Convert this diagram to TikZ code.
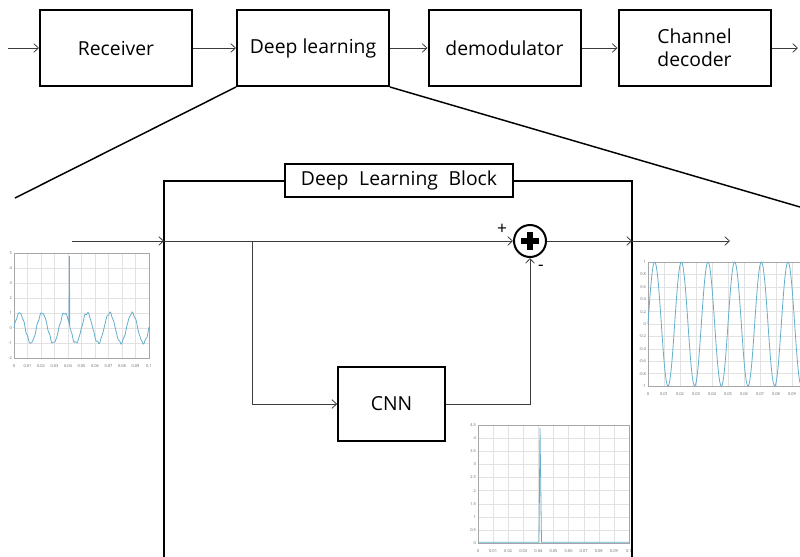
\documentclass[tikz,border=0pt]{standalone}
\usepackage{fontspec}
\setmainfont{Open Sans}
\usepackage{tikz}
\usetikzlibrary{shapes,arrows.meta,positioning,calc}
\definecolor{sigblue}{RGB}{100,174,204}
\definecolor{gridgray}{RGB}{226,226,226}
\definecolor{linegray}{RGB}{60,60,60}
\tikzset{
  blk/.style = {draw=black, line width=1.5pt, rectangle, align=center, inner sep=0pt, font=\fontsize{14.5}{17.5}\selectfont},
  topblk/.style = {blk, minimum width=114pt, minimum height=57pt},
  cnnblk/.style = {blk, minimum width=80pt, minimum height=55.5pt},
  titleblk/.style = {blk, fill=white, line width=1.2pt, minimum width=171pt, minimum height=24.75pt},
  sumnode/.style = {circle, draw=black, line width=1.5pt, minimum size=24pt, inner sep=0pt},
  signlbl/.style = {font=\fontsize{13}{13}\selectfont, inner sep=0pt},
  sig/.style = {->, draw=linegray, line width=0.6pt},
  zoomline/.style = {draw=black, line width=1.1pt},
  axbox/.style = {draw=gray!70, line width=0.3pt},
  gridline/.style = {draw=gridgray, line width=0.25pt},
  ticklbl/.style = {font=\fontsize{3}{3.5}\selectfont, text=gray!80!black, inner sep=0.6pt},
  curve/.style = {draw=sigblue, line width=0.6pt}
}
\begin{document}
\begin{tikzpicture}[x=0.75pt, y=-0.75pt, >={Straight Barb[length=3.5pt,width=6.5pt]}]
  \useasboundingbox (0,0) rectangle (800,557);
  % top chain
  \node[topblk] (rx) at (116,48) {Receiver};
  \node[topblk] (dl) at (313,48) {Deep learning};
  \node[topblk] (demod) at (504.5,48) {demodulator};
  \node[topblk] (dec) at (694.5,48) {Channel\\decoder};
  \coordinate (in) at (8,48);
  \coordinate (out) at (798,48);
  \draw[sig] (in) -- (rx);
  \draw[sig] (rx) -- (dl);
  \draw[sig] (dl) -- (demod);
  \draw[sig] (demod) -- (dec);
  \draw[sig] (dec) -- (out);
  \coordinate (zl) at (15,198);
  \coordinate (zr) at (800,207);
  \draw[zoomline] (dl.south west) -- (zl);
  \draw[zoomline] (dl.south east) -- (zr);

  % deep learning block
  \draw[line width=1.5pt] (164,557) -- (164,181) -- (632,181) -- (632,557);
  \node[titleblk] (dlb) at (399,180.5) {Deep\hspace{0.55em}Learning\hspace{0.55em}Block};
  \coordinate (sin) at (72,241);
  \coordinate (fl) at (164,241);
  \coordinate (fr) at (632,241);
  \coordinate (sout) at (730,241);
  \coordinate (br) at (252,241);
  \node[sumnode] (sum) at (530,241) {};
  \fill ($(sum)+(-9,-3)$) rectangle ($(sum)+(9,3)$);
  \fill ($(sum)+(-3,-9)$) rectangle ($(sum)+(3,9)$);
  \node[signlbl] (plus) at (502,229) {+};
  \node[signlbl] (minus) at (541,268) {-};
  \node[cnnblk] (cnn) at (391.5,404) {CNN};
  \draw[sig] (sin) -- (fl);
  \draw[sig] (fl) -- (sum);
  \draw[sig] (sum) -- (fr);
  \draw[sig] (fr) -- (sout);
  \draw[sig] (br) |- (cnn);
  \draw[sig] (cnn) -| (sum);

  % input plot
  \foreach \i in {0,...,10} \draw[gridline] ({14+13.5*\i},253) -- ({14+13.5*\i},358);
  \foreach \j in {0,...,7} \draw[gridline] (14,{358-15*\j}) -- (149,{358-15*\j});
  \draw[axbox] (14,253) rectangle (149,358);
  \foreach \i/\l in {0/0,1/0.01,2/0.02,3/0.03,4/0.04,5/0.05,6/0.06,7/0.07,8/0.08,9/0.09,10/0.1}
    \node[ticklbl] at ({14+13.5*\i},366) {\l};
  \foreach \j in {-2,...,5} \node[ticklbl, anchor=east] at (13,{328-15*\j}) {\j};
  \draw[curve] plot[domain=0:55, samples=140] ({14+\x},{328-15*(sin(16*\x)+0.05*sin(83*\x)+0.04*sin(113*\x))})
    -- (69.4,256) -- plot[domain=55.8:135, samples=180] ({14+\x},{328-15*(sin(16*\x)+0.05*sin(83*\x)+0.04*sin(113*\x))});

  % output plot
  \foreach \i in {0,...,9} \draw[gridline] ({648+16*\i},262) -- ({648+16*\i},386);
  \foreach \j in {0,...,10} \draw[gridline] (648,{386-12.4*\j}) -- (800,{386-12.4*\j});
  \draw[axbox] (800,262) -- (648,262) -- (648,386) -- (800,386);
  \foreach \i/\l in {0/0,1/0.01,2/0.02,3/0.03,4/0.04,5/0.05,6/0.06,7/0.07,8/0.08,9/0.09}
    \node[ticklbl] at ({648+16*\i},394) {\l};
  \foreach \j/\l in {0/-1,1/-0.8,2/-0.6,3/-0.4,4/-0.2,5/0,6/0.2,7/0.4,8/0.6,9/0.8,10/1}
    \node[ticklbl, anchor=east] at (647,{386-12.4*\j}) {\l};
  \draw[curve] plot[domain=0:152, samples=240] ({648+\x},{324-62*sin(13.5*\x)});

  % CNN output plot
  \foreach \i in {0,...,10} \draw[gridline] ({478+15.1*\i},425) -- ({478+15.1*\i},543);
  \foreach \j in {0,...,9} \draw[gridline] (478,{543-13.11*\j}) -- (629,{543-13.11*\j});
  \draw[axbox] (478,425) rectangle (629,543);
  \foreach \i/\l in {0/0,1/0.01,2/0.02,3/0.03,4/0.04,5/0.05,6/0.06,7/0.07,8/0.08,9/0.09,10/0.1}
    \node[ticklbl] at ({478+15.1*\i},551) {\l};
  \foreach \j/\l in {0/0,1/0.5,2/1,3/1.5,4/2,5/2.5,6/3,7/3.5,8/4,9/4.5}
    \node[ticklbl, anchor=east] at (477,{543-13.11*\j}) {\l};
  \draw[curve] (478,542.3) -- (539,542.3) -- (540,428) -- (541.5,542.3) -- (629,542.3);
\end{tikzpicture}
\end{document}
